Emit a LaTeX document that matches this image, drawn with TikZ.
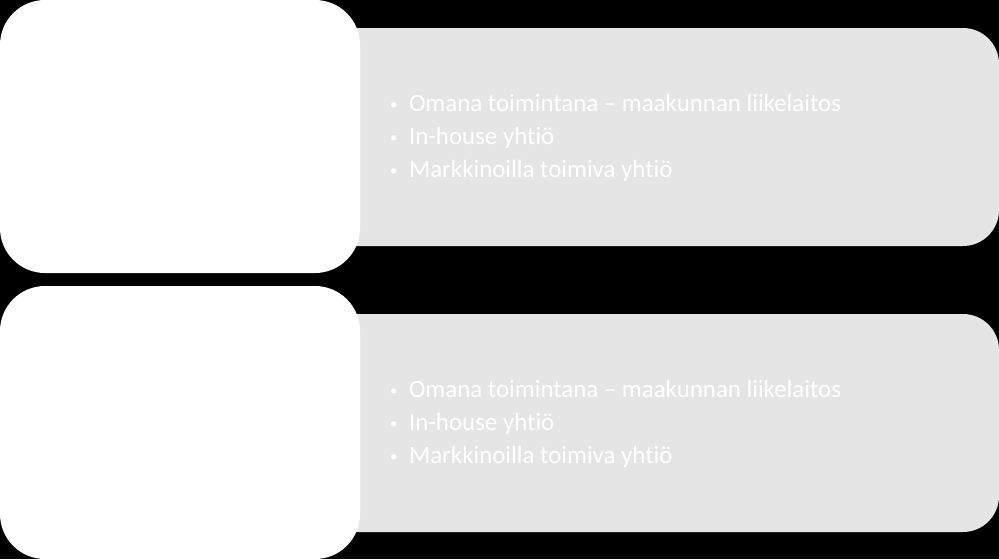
\documentclass[tikz,border=0pt]{standalone}
\usepackage{fontspec}
\setmainfont{Carlito}[RawFeature=-liga]
\definecolor{listgrey}{RGB}{229,229,229}
\newcommand{\itembullet}{\makebox[19bp][l]{\raisebox{2bp}{\fontsize{15}{15}\selectfont\textbullet}}}
\begin{document}
\begin{tikzpicture}[x=1bp,y=-1bp,every node/.style={inner sep=0pt,outer sep=0pt},
  headbox/.style={fill=white,rounded corners=45bp,minimum width=360bp,minimum height=273bp},
  listbox/.style={fill=listgrey,rounded corners=36bp,minimum width=700bp,minimum height=218bp},
  itemtext/.style={text=white,font=\fontsize{25}{33}\selectfont}]

\fill[black] (0,0) rectangle (999,559);
\foreach \n/\y in {a/0,b/286}{
  \node[listbox,anchor=north east] (list\n) at (999,\y+28) {};
  \node[headbox,anchor=north west] (head\n) at (0,\y) {};
  \foreach \i/\t in {1/{Omana toimintana – maakunnan liikelaitos},2/{In-house yhtiö},3/{Markkinoilla toimiva yhtiö}}
    \node[itemtext,anchor=base west] (item\n\i) at (390,\y+78.7+33*\i) {\itembullet\t};
}
\end{tikzpicture}
\end{document}
